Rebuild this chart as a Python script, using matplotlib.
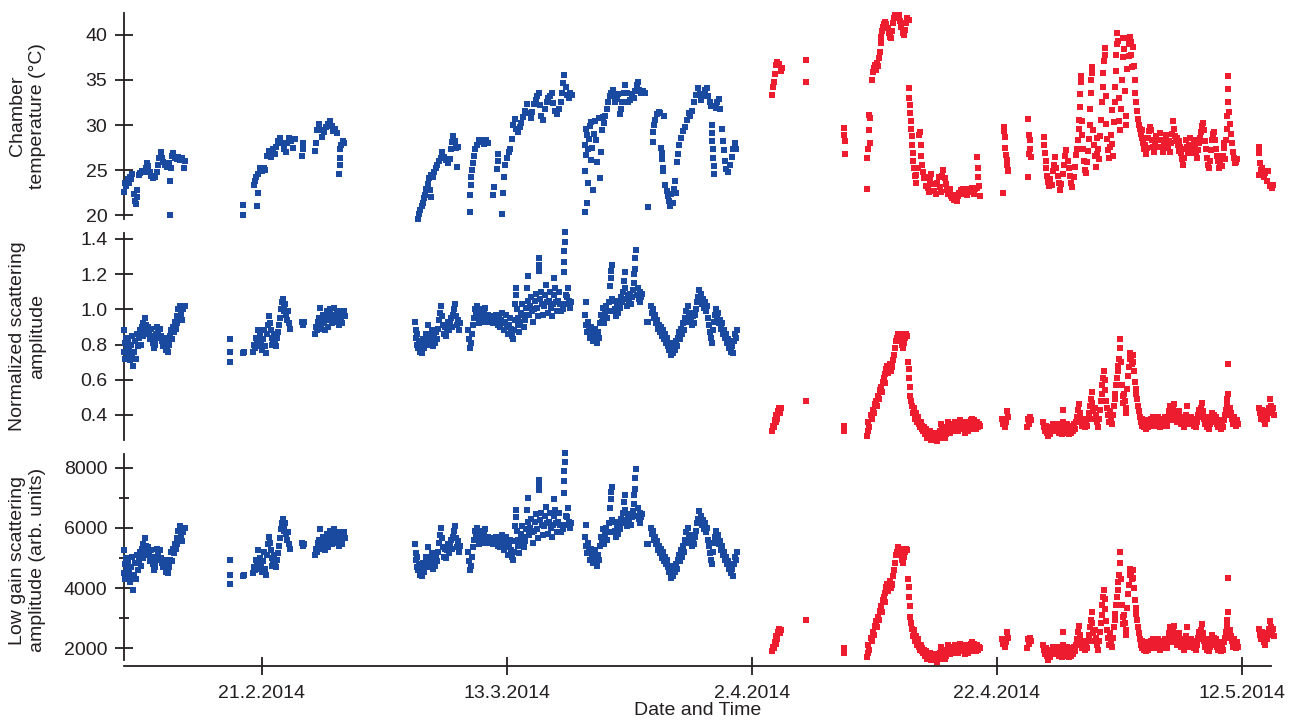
import datetime as dt
import numpy as np
import matplotlib
matplotlib.use("Agg")
import matplotlib.pyplot as plt
import matplotlib.dates as mdates
from matplotlib.ticker import FixedLocator, FormatStrFormatter, FuncFormatter

plt.rcParams['font.family'] = ['Liberation Sans', 'DejaVu Sans']

# all times are days since 1 Feb 2014 00:00
start = dt.datetime(2014, 2, 1)
split_day = 60.0          # 2.4.2014: blue before, red after
x_range = (8.76, 102.37)
tick_dates = [dt.datetime(2014, 2, 21), dt.datetime(2014, 3, 13), dt.datetime(2014, 4, 2),
              dt.datetime(2014, 4, 22), dt.datetime(2014, 5, 12)]

# ---- chamber temperature (deg C) ----
temp_day = [
    8.76, 8.85, 8.95, 9.05, 9.15, 9.25, 9.35, 9.45, 9.55, 9.62,
    9.70, 9.78, 9.86, 9.95, 10.10, 10.25, 10.40, 10.55, 10.65, 10.75,
    10.85, 11.00, 11.15, 11.30, 11.45, 11.55, 11.65, 11.75, 11.85, 11.95,
    12.10, 12.25, 12.40, 12.50, 12.55, 12.60, 12.68, 12.78, 12.90, 13.05,
    13.20, 13.35, 13.50, 13.62, 13.70,
    18.45, 18.50, 19.35, 19.45, 19.55, 19.62, 19.68, 19.72, 19.85, 20.00,
    20.15, 20.30, 20.45, 20.60, 20.75, 20.90, 21.05, 21.20, 21.35, 21.50,
    21.65, 21.80, 21.95, 22.10, 22.25, 22.40, 22.55, 22.70, 23.30, 23.35,
    23.40, 24.35, 24.42, 24.50, 24.65, 24.80, 24.95, 25.10, 25.25, 25.40,
    25.55, 25.70, 25.85, 26.00, 26.15, 26.35, 26.38, 26.40, 26.42, 26.50,
    26.62, 26.75,
    32.78, 32.85, 32.95, 33.05, 33.15, 33.25, 33.35, 33.45, 33.55, 33.65,
    33.72, 33.78, 33.85, 33.95, 34.05, 34.20, 34.35, 34.50, 34.65, 34.75,
    34.90, 35.05, 35.20, 35.35, 35.45, 35.55, 35.65, 35.75, 35.85, 35.92,
    36.00, 37.00, 37.02, 37.05, 37.08, 37.15, 37.25, 37.35, 37.45, 37.55,
    37.70, 37.85, 38.00, 38.15, 38.30, 38.45, 38.90, 38.95, 39.20, 39.25,
    39.30, 39.58, 39.72, 39.74, 39.85, 40.00, 40.15, 40.30, 40.45, 40.55,
    40.65, 40.75, 40.90, 41.05, 41.20, 41.35, 41.50, 41.65, 41.80, 41.95,
    42.10, 42.25, 42.40, 42.50, 42.60, 42.70, 42.80, 42.95, 43.10, 43.25,
    43.40, 43.55, 43.67, 43.80, 43.95, 44.10, 44.25, 44.40, 44.50, 44.60,
    44.70, 44.80, 44.90, 45.05, 45.20, 45.30,
    46.38, 46.40, 46.42, 46.45, 46.48, 46.52, 46.56, 46.60, 46.64, 46.70,
    46.76, 46.84, 46.92, 47.00, 47.05, 47.14, 47.22, 47.30, 47.40, 47.50,
    47.60, 47.68, 47.76, 47.85, 47.95, 48.05, 48.15, 48.28, 48.40, 48.52,
    48.64, 48.76, 48.88, 49.00, 49.12, 49.25, 49.35, 49.45, 49.55, 49.66,
    49.78, 49.90, 50.05, 50.20, 50.35, 50.48, 50.60, 50.70, 50.82, 50.95,
    51.10, 51.25,
    51.55, 51.95, 51.97, 51.99, 52.10, 52.25, 52.40, 52.55, 52.62, 52.65,
    52.68, 52.72, 52.78, 52.85, 52.95, 53.05, 53.15, 53.25, 53.35, 53.45,
    53.55, 53.65, 53.75, 53.85, 53.92, 53.98, 54.10, 54.25, 54.40, 54.55,
    54.70, 54.85, 55.00, 55.15, 55.30, 55.45, 55.60, 55.75, 55.90, 56.05,
    56.20, 56.32, 56.45, 56.58, 56.70, 56.72, 56.75, 56.78, 56.82, 56.86,
    56.90, 56.95, 57.05, 57.20, 57.33, 57.45, 57.55, 57.62, 57.70, 57.80,
    57.90, 58.05, 58.20, 58.35, 58.50, 58.62, 58.75,
    61.68, 61.75, 61.85, 61.93, 62.00, 62.10, 62.22, 62.35, 62.45, 64.46,
    64.47, 67.50, 67.55, 67.60, 67.62, 69.40, 69.45, 69.50, 69.55, 69.58,
    69.62, 69.68,
    69.80, 69.88, 69.95, 70.05, 70.15, 70.22, 70.30, 70.38, 70.45, 70.52,
    70.58, 70.65, 70.72, 70.80, 70.90, 71.00, 71.10, 71.20, 71.30, 71.40,
    71.48, 71.56, 71.64, 71.72, 71.82, 71.92, 72.02, 72.12, 72.22, 72.32,
    72.42, 72.52, 72.60, 72.70, 72.80,
    72.85, 72.88, 72.90, 72.93, 72.97, 73.00, 73.05, 73.10, 73.15, 73.20,
    73.25, 73.30, 73.38, 73.45, 73.55, 73.65, 73.70, 73.78, 73.85, 73.92,
    74.00, 74.10, 74.20, 74.28, 74.38, 74.48, 74.57, 74.65, 74.75, 74.85,
    74.95, 75.05, 75.15, 75.25, 75.35, 75.45, 75.55, 75.65, 75.75, 75.85,
    75.95, 76.05, 76.15, 76.25, 76.35, 76.45, 76.55, 76.65, 76.75, 76.85,
    76.95, 77.05, 77.15, 77.25, 77.35, 77.45, 77.55, 77.65, 77.75, 77.85,
    77.95, 78.05, 78.15, 78.25, 78.35, 78.42, 78.45, 78.50, 78.55, 78.60,
    80.55, 80.60, 80.63, 80.66, 80.70, 80.75, 80.80, 80.85, 80.90, 80.95,
    82.55, 82.58, 82.60, 82.65, 82.70, 82.75, 82.80,
    83.85, 83.90, 83.95, 84.00, 84.05, 84.12, 84.20, 84.28, 84.38, 84.48,
    84.58, 84.68, 84.78, 84.88, 84.98, 85.08, 85.18, 85.28, 85.38, 85.48,
    85.58, 85.68, 85.78, 85.88, 85.98, 86.08, 86.18, 86.28, 86.38, 86.48,
    86.55, 86.62, 86.68, 86.72, 86.76, 86.80, 86.84, 86.88, 86.95, 87.00,
    87.08, 87.15, 87.22, 87.30, 87.38, 87.45, 87.52, 87.58, 87.62, 87.66,
    87.70, 87.74, 87.80, 87.85, 87.92, 88.00, 88.08, 88.15, 88.22, 88.30,
    88.38, 88.45, 88.52, 88.58, 88.64, 88.70, 88.76, 88.82, 88.88, 88.92,
    88.96, 89.00, 89.08, 89.15, 89.22, 89.30, 89.38, 89.45, 89.52, 89.58,
    89.62, 89.66, 89.70, 89.74, 89.78, 89.82, 89.88, 89.95, 90.02, 90.08,
    90.15, 90.22, 90.28, 90.34, 90.40, 90.46, 90.52, 90.58, 90.64, 90.70,
    90.76, 90.82, 90.88, 90.94, 91.00, 91.06, 91.12, 91.20, 91.26, 91.32,
    91.38, 91.44, 91.50, 91.58, 91.66, 91.74, 91.82, 91.90, 91.98, 92.06,
    92.14, 92.22, 92.30, 92.38, 92.46, 92.54, 92.62, 92.70, 92.78, 92.86,
    92.94, 93.02, 93.10, 93.18, 93.26, 93.34, 93.42, 93.50, 93.58, 93.66,
    93.74, 93.82, 93.90, 93.98, 94.06, 94.14, 94.22, 94.30, 94.38, 94.45,
    94.52, 94.60, 94.68, 94.76, 94.84, 94.92, 95.00, 95.08, 95.16, 95.24,
    95.32, 95.40, 95.48, 95.56, 95.64, 95.72, 95.80, 95.88, 95.96, 96.04,
    96.12, 96.20, 96.28, 96.36, 96.44, 96.52, 96.60, 96.68, 96.76, 96.84,
    96.92, 97.00, 97.08, 97.16, 97.24, 97.32, 97.40, 97.48, 97.56, 97.64,
    97.72, 97.80, 97.88, 97.96, 98.04, 98.12, 98.20, 98.28, 98.36, 98.44,
    98.52, 98.58, 98.62, 98.70, 98.76, 98.80, 98.84, 98.88, 98.92, 98.98,
    99.04, 99.10, 99.18, 99.26, 99.34, 99.42, 99.50, 99.58,
    101.40, 101.42, 101.45, 101.52, 101.60, 101.68, 101.80, 101.92, 102.05, 102.18,
    102.32, 102.45, 102.58,
]
temp_c = [
    22.6, 23.6, 23.2, 24.0, 23.6, 24.3, 24.0, 24.6, 22.4, 21.6,
    21.3, 22.0, 22.8, 24.5, 24.7, 24.9, 24.8, 25.3, 25.8, 25.5,
    24.8, 24.4, 24.1, 24.3, 24.8, 25.6, 26.4, 27.0, 26.4, 25.9,
    25.6, 25.4, 25.8, 20.0, 23.8, 25.2, 26.6, 26.9, 26.4, 26.2,
    26.5, 26.1, 26.3, 25.2, 26.0,
    21.1, 20.0, 23.4, 23.8, 24.2, 21.0, 22.5, 24.6, 25.2, 24.9,
    25.3, 25.0, 26.6, 27.1, 26.5, 27.4, 26.8, 27.6, 28.2, 28.6,
    28.0, 27.3, 27.0, 28.0, 28.6, 28.2, 27.5, 28.5, 26.6, 27.4,
    28.0, 27.1, 28.0, 29.5, 30.1, 29.4, 28.7, 29.2, 29.8, 30.1,
    30.5, 29.9, 29.3, 29.6, 29.1, 24.6, 25.6, 26.4, 27.3, 27.8,
    28.2, 28.0,
    19.6, 20.1, 20.6, 21.0, 21.4, 21.9, 22.3, 22.9, 23.5, 24.1,
    22.8, 22.0, 24.5, 24.3, 24.8, 25.2, 25.6, 26.0, 26.3, 27.0,
    26.5, 26.1, 25.8, 26.2, 27.4, 28.1, 28.8, 28.2, 27.5, 25.4,
    27.6, 20.4, 22.3, 23.4, 24.2, 25.0, 25.8, 26.6, 27.3, 27.8,
    28.3, 28.1, 28.4, 27.9, 28.3, 28.0, 22.3, 23.1, 25.1, 26.0,
    26.8, 20.1, 22.5, 24.3, 25.6, 26.3, 27.0, 27.4, 28.5, 30.0,
    30.7, 29.6, 29.2, 29.8, 30.2, 30.9, 31.6, 32.3, 31.3, 30.8,
    31.4, 32.3, 32.8, 33.2, 33.5, 32.2, 31.0, 30.6, 31.8, 32.6,
    33.0, 33.2, 33.5, 32.4, 31.6, 31.2, 31.8, 32.5, 33.6, 34.6,
    35.5, 34.2, 33.3, 33.0, 33.6, 33.3,
    20.4, 24.9, 27.8, 29.6, 26.7, 28.9, 21.4, 23.6, 27.3, 28.5,
    29.9, 26.1, 30.3, 27.5, 22.8, 29.0, 30.5, 28.3, 25.9, 30.8,
    24.1, 27.0, 29.5, 30.9, 30.2, 31.0, 31.8, 32.6, 33.2, 33.5,
    33.9, 33.2, 32.5, 32.9, 33.4, 31.2, 31.8, 32.5, 33.6, 34.4,
    33.6, 32.6, 32.8, 33.4, 33.0, 33.8, 34.4, 34.8, 33.9, 33.5,
    33.8, 33.6,
    20.9, 28.1, 29.2, 30.0, 30.6, 31.2, 31.5, 31.3, 27.5, 26.9,
    26.2, 25.3, 24.9, 31.0, 23.4, 22.7, 22.1, 21.6, 21.0, 22.4,
    21.4, 22.9, 23.8, 22.5, 25.9, 26.8, 27.8, 28.6, 29.3, 29.8,
    30.6, 31.3, 31.0, 31.6, 32.6, 33.3, 34.1, 33.4, 32.8, 33.2,
    33.9, 34.1, 33.2, 32.5, 32.1, 30.0, 29.1, 28.2, 27.3, 26.4,
    25.5, 24.6, 31.9, 32.6, 32.9, 31.8, 29.6, 28.2, 27.2, 26.0,
    25.1, 24.8, 25.6, 26.5, 27.3, 28.0, 27.4,
    33.3, 34.2, 34.8, 35.7, 36.7, 37.0, 36.8, 36.0, 36.3, 37.2,
    34.8, 29.7, 28.9, 28.2, 26.8, 22.9, 26.3, 27.4, 29.5, 31.1,
    30.8, 28.0,
    35.0, 35.9, 36.3, 36.7, 36.1, 36.9, 36.5, 37.4, 38.1, 39.1,
    39.8, 40.4, 40.9, 41.2, 41.4, 41.2, 40.7, 40.2, 39.7, 39.6,
    40.4, 41.3, 41.8, 42.2, 42.1, 41.8, 42.2, 41.5, 40.9, 40.2,
    40.0, 40.5, 41.3, 41.8, 41.6,
    34.1, 33.0, 32.2, 31.3, 30.4, 29.6, 28.8, 27.8, 26.9, 26.0,
    25.2, 24.4, 23.6, 24.5, 25.2, 28.9, 29.2, 27.8, 26.6, 25.6,
    24.8, 24.1, 23.2, 24.3, 23.0, 22.6, 23.9, 24.6, 23.5, 22.7,
    23.5, 22.4, 23.6, 24.3, 23.1, 22.6, 24.4, 25.0, 24.1, 23.5,
    22.8, 22.4, 22.9, 22.2, 21.9, 22.3, 21.7, 22.0, 21.6, 22.2,
    22.5, 22.8, 22.4, 22.9, 22.5, 22.8, 22.3, 22.7, 22.9, 22.6,
    23.0, 22.8, 22.4, 22.9, 23.0, 26.5, 25.2, 24.3, 23.2, 22.1,
    22.5, 29.8, 29.3, 28.7, 27.5, 26.7, 26.1, 25.6, 25.0, 24.9,
    30.7, 24.3, 28.9, 26.8, 28.3, 27.4, 26.5,
    28.7, 27.8, 26.9, 26.0, 25.2, 24.4, 23.7, 23.2, 24.0, 23.4,
    24.9, 25.6, 26.5, 25.2, 24.4, 23.6, 22.8, 23.5, 24.6, 25.6,
    26.6, 27.2, 26.0, 25.2, 24.4, 23.6, 23.1, 24.2, 25.4, 26.7,
    27.3, 28.4, 29.6, 30.6, 32.0, 33.4, 34.8, 35.4, 30.4, 28.9,
    27.4, 26.0, 25.0, 24.7, 25.9, 27.1, 28.5, 30.0, 31.8, 33.6,
    35.0, 36.4, 35.8, 29.4, 27.8, 26.6, 25.4, 26.8, 28.6, 27.4,
    26.2, 28.8, 30.6, 32.5, 34.2, 35.8, 37.1, 38.5, 37.8, 33.2,
    30.1, 28.5, 27.2, 26.3, 27.6, 28.9, 31.7, 27.9, 26.6, 30.3,
    32.5, 34.2, 36.0, 37.8, 39.0, 40.2, 39.3, 33.0, 30.4, 29.5,
    31.8, 35.0, 37.5, 39.6, 38.4, 33.8, 31.0, 30.0, 36.2, 39.6,
    39.0, 37.6, 39.8, 39.2, 37.8, 36.4, 38.6, 36.5, 35.0, 33.5,
    32.6, 31.6, 30.7, 30.0, 29.6, 29.0, 29.5, 28.6, 28.0, 27.3,
    27.8, 26.8, 27.5, 28.6, 29.3, 29.8, 29.5, 28.4, 27.6, 27.0,
    28.2, 28.8, 28.3, 27.6, 28.4, 29.1, 28.3, 27.6, 27.0, 27.8,
    28.4, 28.9, 28.1, 27.5, 28.2, 27.0, 28.0, 29.0, 30.4, 29.6,
    28.8, 28.2, 28.6, 27.8, 27.1, 28.2, 27.6, 26.9, 26.2, 25.6,
    26.4, 27.3, 28.4, 27.6, 26.9, 27.8, 28.6, 27.4, 26.9, 27.7,
    28.3, 27.6, 27.0, 26.4, 27.2, 28.0, 28.6, 29.2, 29.9, 30.2,
    29.4, 28.2, 27.3, 26.4, 25.6, 25.3, 26.0, 27.2, 28.3, 29.0,
    29.2, 28.3, 27.4, 26.6, 26.0, 25.3, 25.9, 26.4, 25.5, 26.6,
    27.5, 28.0, 26.2, 28.4, 29.6, 31.0, 32.6, 34.0, 35.4, 31.5,
    30.1, 29.0, 28.0, 27.0, 26.3, 25.8, 25.9, 26.2,
    27.6, 26.9, 24.5, 25.8, 25.0, 25.3, 24.3, 24.7, 23.8, 24.9,
    23.3, 23.0, 23.4,
]

# ---- scattering amplitude: normalized and low gain (arb. units) ----
scat_day = [
    8.72, 8.76, 8.80, 8.86, 8.92, 8.98, 9.05, 9.12, 9.18, 9.25,
    9.32, 9.38, 9.45, 9.52, 9.60, 9.68, 9.75, 9.82, 9.90, 9.98,
    10.05, 10.12, 10.20, 10.28, 10.35, 10.42, 10.50, 10.58, 10.65, 10.72,
    10.80, 10.88, 10.95, 11.02, 11.10, 11.18, 11.25, 11.32, 11.40, 11.48,
    11.55, 11.62, 11.70, 11.78, 11.85, 11.92, 12.00, 12.08, 12.15, 12.22,
    12.30, 12.38, 12.45, 12.52, 12.60, 12.68, 12.75, 12.82, 12.90, 12.98,
    13.05, 13.12, 13.20, 13.28, 13.35, 13.42, 13.50, 13.58, 13.70,
    17.40, 17.42, 17.44, 18.45, 18.55, 19.30, 19.38, 19.45, 19.52, 19.60,
    19.68, 19.75, 19.82, 19.90, 19.98, 20.05, 20.12, 20.20, 20.28, 20.35,
    20.42, 20.50, 20.58, 20.65, 20.72, 20.80, 20.88, 20.95, 21.02, 21.10,
    21.18, 21.25, 21.32, 21.40, 21.48, 21.55, 21.62, 21.70, 21.78, 21.85,
    21.92, 22.00, 22.08, 22.15, 22.22, 22.30, 23.28, 23.35, 23.45, 24.35,
    24.42, 24.50, 24.58, 24.65, 24.72, 24.76, 24.85, 24.92, 25.00, 25.08,
    25.15, 25.22, 25.30, 25.38, 25.45, 25.52, 25.60, 25.68, 25.75, 25.82,
    25.90, 25.98, 26.05, 26.12, 26.20, 26.28, 26.35, 26.42, 26.50, 26.58,
    26.65, 26.72, 26.80,
    32.52, 32.56, 32.60, 32.65, 32.70, 32.75, 32.82, 32.90, 32.98, 33.05,
    33.12, 33.20, 33.28, 33.35, 33.42, 33.50, 33.58, 33.65, 33.72, 33.80,
    33.88, 33.95, 34.02, 34.10, 34.18, 34.26, 34.34, 34.42, 34.50, 34.58,
    34.66, 34.74, 34.82, 34.90, 34.98, 35.06, 35.14, 35.22, 35.30, 35.38,
    35.46, 35.54, 35.62, 35.70, 35.78, 35.86, 35.94, 36.02, 36.10, 36.18,
    36.88, 36.95, 37.02, 37.10, 37.18, 37.25, 37.32, 37.40, 37.48, 37.56,
    37.64, 37.72, 37.80, 37.88, 37.96, 38.04, 38.12, 38.20, 38.28, 38.36,
    38.44, 38.80, 38.88, 38.96, 39.04, 39.12, 39.20, 39.28, 39.36, 39.44,
    39.52, 39.60, 39.68, 39.76, 39.84, 39.92, 40.00, 40.08, 40.16, 40.24,
    40.32, 40.40, 40.48, 40.56, 40.64, 40.70, 40.74, 40.78, 40.84, 40.90,
    40.96, 41.04, 41.12, 41.20, 41.28, 41.36, 41.44, 41.52, 41.60, 41.66,
    41.71, 41.76, 41.84, 41.92, 42.00, 42.08, 42.16, 42.24, 42.32, 42.40,
    42.48, 42.56, 42.62, 42.64, 42.66, 42.70, 42.78, 42.86, 42.94, 43.02,
    43.10, 43.18, 43.26, 43.34, 43.42, 43.50, 43.58, 43.66, 43.74, 43.82,
    43.88, 43.94, 44.02, 44.10, 44.18, 44.26, 44.34, 44.42, 44.50, 44.58,
    44.64, 44.67, 44.70, 44.72, 44.74, 44.80, 44.88, 44.96, 45.04, 45.12,
    45.20, 45.28,
    46.40, 46.45, 46.50, 46.55, 46.62, 46.70, 46.78, 46.86, 46.94, 47.02,
    47.10, 47.18, 47.26, 47.34, 47.42, 47.50, 47.58, 47.66, 47.74, 47.82,
    47.90, 47.98, 48.06, 48.14, 48.22, 48.30, 48.38, 48.44, 48.48, 48.52,
    48.56, 48.62, 48.70, 48.78, 48.86, 48.94, 49.02, 49.10, 49.18, 49.26,
    49.34, 49.42, 49.50, 49.56, 49.62, 49.68, 49.76, 49.84, 49.92, 50.00,
    50.08, 50.16, 50.24, 50.32, 50.38, 50.42, 50.46, 50.50, 50.54, 50.60,
    50.68, 50.76, 50.84, 50.92, 51.00, 51.08,
    51.45, 51.50, 51.80, 51.88, 51.96, 52.04, 52.12, 52.20, 52.28, 52.36,
    52.44, 52.52, 52.60, 52.68, 52.76, 52.84, 52.92, 53.00, 53.08, 53.16,
    53.24, 53.32, 53.40, 53.48, 53.56, 53.64, 53.72, 53.80, 53.88, 53.96,
    54.04, 54.12, 54.20, 54.28, 54.36, 54.44, 54.52, 54.60, 54.68, 54.76,
    54.84, 54.92, 55.00, 55.08, 55.16, 55.24, 55.32, 55.40, 55.48, 55.56,
    55.64, 55.72, 55.80, 55.88, 55.96, 56.04, 56.12, 56.20, 56.28, 56.36,
    56.44, 56.52, 56.60, 56.68, 56.76, 56.84, 56.92, 57.00, 57.08, 57.16,
    57.24, 57.32, 57.40, 57.48, 57.56, 57.64, 57.72, 57.80, 57.88, 57.96,
    58.04, 58.12, 58.20, 58.28, 58.36, 58.44, 58.52, 58.60, 58.68, 58.76,
    61.68, 61.74, 61.80, 61.88, 61.95, 62.02, 62.10, 62.18, 62.26, 62.34,
    62.42, 64.46, 67.52, 67.56, 69.42, 69.46, 69.52, 69.58,
    69.73, 69.80, 69.88, 69.95, 70.03, 70.12, 70.20, 70.28, 70.36, 70.44,
    70.53, 70.60, 70.68, 70.76, 70.84, 70.91, 70.98, 71.05, 71.12, 71.20,
    71.28, 71.35, 71.42, 71.49, 71.56, 71.64, 71.72, 71.79, 71.86, 71.93,
    72.00, 72.08, 72.15, 72.23, 72.30, 72.37, 72.45, 72.52, 72.60, 72.66,
    72.75, 72.80, 72.85, 72.90, 72.95, 73.00, 73.08, 73.15, 73.22, 73.30,
    73.38, 73.46, 73.54, 73.62, 73.70, 73.78, 73.86, 73.94, 74.02, 74.10,
    74.18, 74.26, 74.34, 74.42, 74.50, 74.58, 74.66, 74.74, 74.82, 74.90,
    74.98, 75.06, 75.14, 75.22, 75.30, 75.38, 75.46, 75.54, 75.62, 75.70,
    75.78, 75.86, 75.94, 76.02, 76.10, 76.18, 76.26, 76.34, 76.42, 76.50,
    76.58, 76.66, 76.74, 76.82, 76.90, 76.98, 77.06, 77.14, 77.22, 77.30,
    77.38, 77.46, 77.54, 77.62, 77.70, 77.78, 77.86, 77.94, 78.02, 78.10,
    78.18, 78.26, 78.34, 78.42, 78.50, 78.58, 78.66,
    80.45, 80.52, 80.60, 80.68, 80.76, 80.84, 80.92, 82.50, 82.58, 82.66,
    82.74, 82.82,
    83.80, 83.88, 83.96, 84.04, 84.12, 84.20, 84.28, 84.36, 84.44, 84.52,
    84.60, 84.68, 84.76, 84.84, 84.92, 85.00, 85.08, 85.16, 85.24, 85.32,
    85.40, 85.44, 85.52, 85.60, 85.68, 85.76, 85.84, 85.92, 86.00, 86.08,
    86.16, 86.24, 86.32, 86.40, 86.48, 86.56, 86.64, 86.72, 86.80, 86.88,
    86.96, 87.04, 87.12, 87.20, 87.28, 87.36, 87.44, 87.52, 87.60, 87.68,
    87.74, 87.80, 87.86, 87.92, 88.00, 88.08, 88.16, 88.24, 88.32, 88.40,
    88.48, 88.56, 88.62, 88.68, 88.74, 88.80, 88.86, 88.92, 89.00, 89.08,
    89.16, 89.24, 89.32, 89.40, 89.48, 89.56, 89.62, 89.68, 89.74, 89.80,
    89.86, 89.92, 89.98, 90.04, 90.10, 90.16, 90.22, 90.28, 90.34, 90.40,
    90.46, 90.52, 90.58, 90.66, 90.74, 90.80, 90.86, 90.92, 90.98, 91.04,
    91.10, 91.16, 91.22, 91.28, 91.34, 91.40, 91.46, 91.52, 91.58, 91.66,
    91.74, 91.82, 91.90, 91.98, 92.06, 92.14, 92.22, 92.30, 92.38, 92.46,
    92.54, 92.62, 92.70, 92.78, 92.86, 92.94, 93.02, 93.10, 93.18, 93.26,
    93.34, 93.42, 93.50, 93.58, 93.66, 93.74, 93.82, 93.90, 93.98, 94.06,
    94.14, 94.22, 94.30, 94.38, 94.46, 94.54, 94.62, 94.70, 94.78, 94.86,
    94.94, 95.02, 95.10, 95.18, 95.26, 95.34, 95.42, 95.50, 95.58, 95.66,
    95.74, 95.82, 95.90, 95.98, 96.06, 96.14, 96.22, 96.30, 96.38, 96.46,
    96.54, 96.62, 96.70, 96.78, 96.86, 96.94, 97.02, 97.10, 97.18, 97.26,
    97.34, 97.42, 97.50, 97.58, 97.66, 97.74, 97.82, 97.90, 97.98, 98.06,
    98.14, 98.22, 98.30, 98.38, 98.46, 98.54, 98.62, 98.70, 98.76, 98.80,
    98.84, 98.89, 98.94, 99.00, 99.08, 99.16, 99.24, 99.32, 99.40, 99.48,
    99.56, 99.64, 99.72,
    101.42, 101.48, 101.54, 101.62, 101.70, 101.78, 101.86, 101.94, 102.02, 102.10,
    102.18, 102.26, 102.34, 102.42, 102.50, 102.56, 102.62,
]
scat_norm = [
    0.88, 0.76, 0.81, 0.72, 0.84, 0.78, 0.74, 0.82, 0.77, 0.71,
    0.80, 0.85, 0.73, 0.68, 0.76, 0.82, 0.72, 0.86, 0.79, 0.84,
    0.88, 0.80, 0.90, 0.85, 0.92, 0.88, 0.95, 0.91, 0.86, 0.90,
    0.87, 0.83, 0.89, 0.85, 0.81, 0.78, 0.83, 0.80, 0.86, 0.90,
    0.87, 0.84, 0.89, 0.85, 0.82, 0.79, 0.84, 0.80, 0.77, 0.82,
    0.78, 0.76, 0.80, 0.85, 0.88, 0.83, 0.90, 0.87, 0.93, 0.89,
    0.96, 0.92, 1.00, 0.95, 1.02, 0.97, 0.94, 1.00, 1.02,
    0.83, 0.76, 0.70, 0.75, 0.76, 0.76, 0.80, 0.78, 0.84, 0.81,
    0.88, 0.82, 0.79, 0.85, 0.80, 0.77, 0.83, 0.88, 0.79, 0.75,
    0.86, 0.91, 0.96, 0.92, 0.88, 0.84, 0.80, 0.83, 0.86, 0.82,
    0.79, 0.84, 0.87, 0.91, 0.95, 1.00, 1.04, 1.06, 1.02, 0.99,
    1.03, 0.97, 0.94, 0.99, 0.92, 0.89, 0.93, 0.91, 0.93, 0.86,
    0.90, 0.88, 0.93, 0.95, 0.91, 1.01, 0.89, 0.94, 0.97, 0.92,
    0.88, 0.95, 0.99, 0.94, 0.90, 0.96, 1.00, 0.95, 0.92, 0.97,
    1.01, 0.96, 0.93, 0.98, 0.94, 0.91, 0.96, 0.99, 0.95, 0.92,
    0.97, 0.99, 0.96,
    0.93, 0.88, 0.84, 0.80, 0.86, 0.78, 0.82, 0.76, 0.80, 0.75,
    0.79, 0.83, 0.78, 0.81, 0.86, 0.82, 0.91, 0.85, 0.80, 0.84,
    0.88, 0.82, 0.79, 0.85, 0.81, 0.87, 0.83, 0.89, 0.94, 0.98,
    1.02, 0.96, 0.91, 0.86, 0.90, 0.85, 0.89, 0.93, 0.88, 0.92,
    0.95, 0.90, 0.97, 1.00, 1.03, 0.96, 0.91, 0.94, 0.88, 0.92,
    0.88, 0.83, 0.78, 0.81, 0.86, 0.91, 0.95, 1.00, 0.97, 1.02,
    0.95, 0.92, 0.97, 1.00, 0.96, 0.93, 0.98, 1.01, 0.96, 0.93,
    0.97, 0.95, 0.92, 0.96, 0.93, 0.97, 0.94, 0.91, 0.95, 0.90,
    0.94, 0.98, 0.92, 0.88, 0.93, 0.97, 0.90, 0.86, 0.91, 0.95,
    0.89, 0.85, 0.83, 0.88, 0.94, 1.03, 1.08, 1.12, 1.00, 0.95,
    0.91, 0.87, 0.93, 0.98, 1.03, 0.97, 0.90, 0.94, 1.01, 1.12,
    1.19, 1.05, 0.97, 1.02, 1.07, 0.99, 0.93, 1.00, 1.05, 1.09,
    1.01, 0.96, 1.22, 1.25, 1.29, 1.06, 1.10, 1.03, 0.97, 1.02,
    1.08, 1.14, 1.04, 0.98, 1.05, 1.10, 1.01, 0.96, 1.03, 1.08,
    1.18, 1.12, 1.04, 0.99, 1.05, 1.10, 1.03, 0.99, 1.03, 1.00,
    1.21, 1.27, 1.33, 1.38, 1.44, 1.08, 1.03, 1.07, 1.12, 1.05,
    1.01, 1.04,
    0.97, 0.91, 1.04, 0.87, 0.93, 0.88, 0.84, 0.90, 0.86, 0.82,
    0.85, 0.89, 0.83, 0.81, 0.87, 0.84, 0.92, 0.97, 0.93, 1.01,
    0.96, 0.92, 0.98, 1.02, 0.95, 0.99, 1.04, 1.13, 1.18, 1.22,
    1.25, 1.06, 0.99, 1.05, 1.00, 0.96, 1.03, 0.98, 1.05, 1.01,
    1.07, 1.04, 1.10, 1.16, 1.21, 1.12, 1.06, 1.02, 1.08, 1.04,
    1.09, 1.03, 1.07, 1.11, 1.15, 1.20, 1.23, 1.29, 1.34, 1.08,
    1.12, 1.06, 1.10, 1.04, 1.07, 1.09,
    0.93, 0.93, 1.02, 0.98, 1.00, 0.95, 0.97, 0.92, 0.94, 0.89,
    0.91, 0.87, 0.90, 0.85, 0.88, 0.83, 0.86, 0.81, 0.84, 0.79,
    0.77, 0.81, 0.74, 0.78, 0.75, 0.80, 0.77, 0.82, 0.79, 0.84,
    0.87, 0.83, 0.89, 0.86, 0.92, 0.88, 0.95, 0.99, 0.94, 1.02,
    0.97, 0.93, 0.98, 0.95, 0.91, 0.96, 0.92, 0.97, 1.00, 1.04,
    1.07, 1.11, 1.06, 1.09, 1.03, 1.06, 1.01, 1.04, 0.99, 1.02,
    0.95, 0.91, 0.87, 0.84, 0.81, 0.88, 0.93, 0.97, 1.00, 0.95,
    0.98, 0.92, 0.94, 0.89, 0.92, 0.86, 0.88, 0.84, 0.86, 0.81,
    0.83, 0.78, 0.80, 0.76, 0.79, 0.75, 0.82, 0.86, 0.84, 0.88,
    0.31, 0.34, 0.33, 0.37, 0.36, 0.40, 0.38, 0.42, 0.44, 0.41,
    0.44, 0.48, 0.34, 0.31, 0.28, 0.31, 0.36, 0.33,
    0.40, 0.38, 0.43, 0.41, 0.46, 0.48, 0.45, 0.51, 0.49, 0.54,
    0.56, 0.53, 0.59, 0.61, 0.58, 0.63, 0.66, 0.68, 0.64, 0.66,
    0.69, 0.65, 0.68, 0.67, 0.71, 0.74, 0.78, 0.82, 0.84, 0.86,
    0.83, 0.86, 0.82, 0.80, 0.84, 0.78, 0.81, 0.84, 0.86, 0.85,
    0.70, 0.66, 0.61, 0.56, 0.51, 0.48, 0.45, 0.41, 0.44, 0.38,
    0.41, 0.36, 0.39, 0.35, 0.33, 0.36, 0.32, 0.34, 0.31, 0.33,
    0.29, 0.32, 0.27, 0.30, 0.28, 0.31, 0.26, 0.29, 0.27, 0.30,
    0.26, 0.28, 0.25, 0.29, 0.27, 0.31, 0.35, 0.32, 0.28, 0.30,
    0.27, 0.29, 0.33, 0.36, 0.32, 0.30, 0.34, 0.31, 0.35, 0.32,
    0.36, 0.33, 0.35, 0.31, 0.34, 0.37, 0.33, 0.36, 0.32, 0.35,
    0.30, 0.33, 0.36, 0.31, 0.34, 0.32, 0.37, 0.33, 0.38, 0.34,
    0.37, 0.35, 0.32, 0.36, 0.33, 0.35, 0.34,
    0.38, 0.35, 0.37, 0.33, 0.36, 0.42, 0.39, 0.33, 0.38, 0.35,
    0.39, 0.37,
    0.36, 0.33, 0.31, 0.34, 0.30, 0.28, 0.32, 0.29, 0.33, 0.31,
    0.35, 0.32, 0.34, 0.31, 0.35, 0.33, 0.30, 0.34, 0.32, 0.29,
    0.43, 0.36, 0.31, 0.34, 0.30, 0.35, 0.32, 0.29, 0.33, 0.30,
    0.34, 0.31, 0.35, 0.32, 0.36, 0.39, 0.43, 0.46, 0.41, 0.37,
    0.34, 0.38, 0.35, 0.33, 0.36, 0.34, 0.38, 0.41, 0.45, 0.49,
    0.53, 0.47, 0.42, 0.38, 0.44, 0.40, 0.36, 0.33, 0.38, 0.43,
    0.48, 0.52, 0.57, 0.61, 0.65, 0.60, 0.54, 0.48, 0.44, 0.40,
    0.36, 0.42, 0.38, 0.35, 0.40, 0.45, 0.49, 0.52, 0.57, 0.61,
    0.65, 0.68, 0.72, 0.78, 0.83, 0.70, 0.57, 0.51, 0.47, 0.52,
    0.48, 0.44, 0.41, 0.55, 0.62, 0.67, 0.72, 0.75, 0.73, 0.69,
    0.74, 0.70, 0.65, 0.59, 0.55, 0.52, 0.49, 0.45, 0.42, 0.39,
    0.36, 0.38, 0.34, 0.37, 0.33, 0.36, 0.32, 0.35, 0.33, 0.37,
    0.34, 0.38, 0.35, 0.39, 0.36, 0.34, 0.38, 0.35, 0.39, 0.36,
    0.33, 0.37, 0.34, 0.38, 0.35, 0.39, 0.36, 0.34, 0.38, 0.42,
    0.45, 0.40, 0.37, 0.43, 0.46, 0.41, 0.38, 0.36, 0.39, 0.42,
    0.38, 0.35, 0.39, 0.36, 0.33, 0.37, 0.40, 0.45, 0.38, 0.35,
    0.38, 0.36, 0.39, 0.35, 0.38, 0.34, 0.37, 0.33, 0.36, 0.40,
    0.43, 0.39, 0.44, 0.47, 0.42, 0.38, 0.35, 0.39, 0.33, 0.36,
    0.32, 0.35, 0.38, 0.41, 0.37, 0.40, 0.36, 0.39, 0.35, 0.33,
    0.37, 0.34, 0.32, 0.36, 0.33, 0.37, 0.40, 0.43, 0.46, 0.49,
    0.52, 0.69, 0.43, 0.40, 0.44, 0.41, 0.38, 0.35, 0.39, 0.36,
    0.34, 0.37, 0.35,
    0.44, 0.41, 0.38, 0.43, 0.40, 0.37, 0.35, 0.39, 0.42, 0.38,
    0.41, 0.44, 0.49, 0.45, 0.41, 0.44, 0.40,
]
scat_low = [
    5250, 4500, 4800, 4300, 5000, 4650, 4350, 4850, 4550, 4200,
    4700, 5050, 4350, 3950, 4450, 4850, 4300, 5100, 4600, 4950,
    5200, 4750, 5300, 5000, 5450, 5150, 5650, 5400, 5100, 5350,
    5150, 4900, 5250, 5050, 4800, 4600, 4900, 4700, 5050, 5300,
    5150, 4950, 5250, 5000, 4850, 4700, 4950, 4750, 4550, 4800,
    4600, 4500, 4700, 4950, 5200, 4900, 5300, 5150, 5450, 5300,
    5650, 5450, 5900, 5600, 6050, 5750, 5550, 5850, 6000,
    4920, 4450, 4120, 4400, 4450, 4500, 4700, 4600, 4950, 4800,
    5250, 4900, 4650, 5000, 4750, 4550, 4900, 5200, 4650, 4450,
    5100, 5450, 5700, 5500, 5250, 5000, 4750, 4900, 5100, 4850,
    4700, 4950, 5150, 5400, 5650, 5950, 6150, 6300, 6100, 5900,
    6150, 5800, 5600, 5850, 5450, 5300, 5500, 5400, 5450, 5100,
    5300, 5200, 5500, 5600, 5400, 5950, 5300, 5550, 5700, 5450,
    5250, 5600, 5800, 5550, 5350, 5700, 5900, 5600, 5450, 5750,
    5950, 5650, 5500, 5800, 5550, 5400, 5650, 5850, 5600, 5450,
    5750, 5850, 5650,
    5450, 5150, 4950, 4700, 5050, 4600, 4800, 4450, 4700, 4400,
    4650, 4850, 4550, 4750, 5050, 4800, 5350, 5000, 4700, 4900,
    5150, 4800, 4650, 5000, 4750, 5100, 4900, 5200, 5500, 5750,
    6000, 5650, 5350, 5050, 5300, 5000, 5250, 5450, 5150, 5400,
    5600, 5300, 5700, 5900, 6050, 5650, 5350, 5550, 5200, 5400,
    5200, 4900, 4600, 4750, 5050, 5350, 5600, 5900, 5700, 6000,
    5600, 5450, 5700, 5900, 5650, 5500, 5750, 5950, 5650, 5500,
    5700, 5600, 5450, 5650, 5500, 5700, 5550, 5400, 5600, 5350,
    5550, 5750, 5450, 5250, 5500, 5700, 5350, 5100, 5400, 5600,
    5250, 5050, 4950, 5200, 5550, 6050, 6350, 6600, 5900, 5600,
    5400, 5150, 5500, 5800, 6050, 5700, 5350, 5550, 5950, 6600,
    7000, 6200, 5750, 6000, 6300, 5850, 5500, 5900, 6200, 6450,
    5950, 5650, 7250, 7400, 7600, 6250, 6500, 6100, 5750, 6050,
    6400, 6700, 6150, 5800, 6200, 6500, 6000, 5700, 6100, 6400,
    6950, 6600, 6150, 5850, 6200, 6500, 6100, 5850, 6100, 5950,
    7150, 7550, 7900, 8200, 8500, 6400, 6100, 6350, 6650, 6200,
    6000, 6150,
    5700, 5400, 6100, 5150, 5500, 5200, 4950, 5300, 5100, 4850,
    5000, 5250, 4900, 4750, 5100, 4950, 5400, 5700, 5500, 5950,
    5650, 5450, 5750, 6000, 5600, 5850, 6150, 6650, 6950, 7200,
    7350, 6250, 5850, 6200, 5900, 5700, 6100, 5800, 6200, 5950,
    6300, 6150, 6500, 6850, 7100, 6600, 6250, 6050, 6400, 6150,
    6450, 6100, 6350, 6550, 6800, 7100, 7300, 7650, 7950, 6400,
    6650, 6300, 6500, 6150, 6350, 6450,
    5450, 5450, 6000, 5800, 5900, 5600, 5700, 5450, 5550, 5250,
    5400, 5150, 5300, 5000, 5200, 4900, 5050, 4800, 4950, 4700,
    4550, 4750, 4350, 4600, 4400, 4700, 4550, 4800, 4650, 4950,
    5100, 4900, 5250, 5050, 5400, 5200, 5600, 5850, 5550, 6000,
    5700, 5500, 5750, 5600, 5400, 5650, 5450, 5700, 5900, 6150,
    6300, 6550, 6250, 6400, 6100, 6250, 5950, 6150, 5850, 6000,
    5600, 5400, 5150, 4950, 4800, 5200, 5500, 5700, 5900, 5600,
    5750, 5450, 5550, 5250, 5400, 5100, 5200, 4950, 5050, 4800,
    4900, 4650, 4750, 4500, 4650, 4400, 4800, 5050, 4950, 5200,
    1900, 2050, 2000, 2200, 2150, 2400, 2300, 2550, 2650, 2500,
    2600, 2950, 2000, 1850, 1700, 1850, 2100, 1950,
    2350, 2250, 2550, 2450, 2750, 2900, 2700, 3050, 2950, 3250,
    3400, 3200, 3600, 3700, 3550, 3850, 4050, 4150, 3900, 4050,
    4250, 4000, 4150, 4100, 4400, 4600, 4850, 5100, 5200, 5350,
    5150, 5300, 5100, 4950, 5200, 4850, 5050, 5200, 5300, 5250,
    4300, 4050, 3700, 3400, 3050, 2850, 2650, 2400, 2600, 2250,
    2400, 2100, 2300, 2050, 1950, 2100, 1900, 2000, 1850, 1950,
    1750, 1900, 1650, 1800, 1700, 1850, 1600, 1750, 1650, 1800,
    1600, 1700, 1550, 1750, 1650, 1850, 2050, 1900, 1700, 1800,
    1650, 1750, 1950, 2100, 1900, 1800, 2000, 1850, 2050, 1900,
    2100, 1950, 2050, 1850, 2000, 2150, 1950, 2100, 1900, 2050,
    1800, 1950, 2100, 1850, 2000, 1900, 2150, 1950, 2200, 2000,
    2150, 2050, 1900, 2100, 1950, 2050, 2000,
    2300, 2150, 2250, 2050, 2200, 2550, 2350, 2000, 2300, 2150,
    2350, 2250,
    2100, 1950, 1800, 2000, 1750, 1600, 1850, 1700, 1950, 1800,
    2050, 1850, 2000, 1800, 2050, 1950, 1750, 2000, 1850, 1700,
    2550, 2100, 1800, 2000, 1750, 2050, 1850, 1700, 1950, 1750,
    2000, 1800, 2050, 1900, 2100, 2300, 2550, 2750, 2450, 2200,
    2000, 2250, 2050, 1950, 2100, 2000, 2250, 2450, 2700, 2950,
    3200, 2850, 2500, 2250, 2600, 2350, 2100, 1950, 2250, 2550,
    2850, 3100, 3450, 3700, 3950, 3650, 3300, 2900, 2600, 2350,
    2100, 2500, 2250, 2050, 2350, 2700, 2950, 3150, 3450, 3700,
    3950, 4200, 4450, 4850, 5200, 4300, 3450, 3050, 2800, 3100,
    2850, 2600, 2450, 3350, 3800, 4100, 4450, 4650, 4550, 4300,
    4600, 4350, 4000, 3600, 3350, 3150, 2950, 2700, 2500, 2300,
    2100, 2250, 2000, 2200, 1950, 2100, 1900, 2050, 1950, 2200,
    2000, 2250, 2050, 2300, 2100, 2000, 2250, 2050, 2300, 2150,
    1950, 2200, 2000, 2250, 2050, 2300, 2100, 2000, 2250, 2500,
    2700, 2350, 2200, 2550, 2750, 2450, 2250, 2100, 2300, 2500,
    2250, 2050, 2300, 2100, 1950, 2200, 2400, 2700, 2250, 2050,
    2250, 2100, 2300, 2050, 2250, 2000, 2200, 1950, 2100, 2350,
    2550, 2300, 2600, 2800, 2500, 2250, 2050, 2300, 1950, 2100,
    1900, 2050, 2250, 2450, 2200, 2350, 2100, 2300, 2050, 1950,
    2200, 2000, 1900, 2100, 1950, 2200, 2350, 2550, 2750, 2950,
    3200, 4350, 2550, 2350, 2600, 2400, 2250, 2050, 2300, 2100,
    2000, 2200, 2050,
    2650, 2450, 2300, 2550, 2400, 2200, 2100, 2350, 2500, 2300,
    2450, 2650, 2900, 2700, 2500, 2650, 2400,
]

BLUE = '#1a4aa0'
RED = '#ed1c2e'
INK = '#231f20'
FS = 14

t0 = mdates.date2num(start)

fig = plt.figure(figsize=(13, 7.24), dpi=100)
ax1 = fig.add_axes([0.0954, 0.6975, 0.8821, 0.2845])
ax2 = fig.add_axes([0.0954, 0.3923, 0.8821, 0.2859])
ax3 = fig.add_axes([0.0954, 0.0801, 0.8821, 0.2928])


def draw(ax, days, vals):
    n = min(len(days), len(vals))
    d = np.asarray(days[:n], dtype=float)
    v = np.asarray(vals[:n], dtype=float)
    early = d < split_day
    for mask, col in ((early, BLUE), (~early, RED)):
        ax.plot(t0 + d[mask], v[mask], 's', color=col, ms=3.9, mew=0,
                clip_on=False, zorder=3)


draw(ax1, temp_day, temp_c)
draw(ax2, scat_day, scat_norm)
draw(ax3, scat_day, scat_low)

ax1.set_ylim(19.6, 42.4)
ax1.yaxis.set_major_locator(FixedLocator([20, 25, 30, 35, 40]))
ax2.set_ylim(0.258, 1.434)
ax2.yaxis.set_major_locator(FixedLocator([0.4, 0.6, 0.8, 1.0, 1.2, 1.4]))
ax2.yaxis.set_major_formatter(FormatStrFormatter('%.1f'))
ax3.set_ylim(1412, 8455)
ax3.yaxis.set_major_locator(FixedLocator([2000, 4000, 6000, 8000]))
ax3.yaxis.set_minor_locator(FixedLocator([3000, 5000, 7000]))
ax3.spines['left'].set_bounds(1611, 8455)

ax1.set_ylabel('Chamber\ntemperature (\u00b0C)')
ax2.set_ylabel('Normalized scattering\namplitude')
ax3.set_ylabel('Low gain scattering\namplitude (arb. units)')

for ax in (ax1, ax2, ax3):
    ax.set_xlim(t0 + x_range[0], t0 + x_range[1])
    ax.patch.set_visible(False)
    for side in ('top', 'right'):
        ax.spines[side].set_visible(False)
    ax.spines['left'].set_color(INK)
    ax.spines['left'].set_linewidth(1.3)
    ax.tick_params(axis='y', which='major', direction='inout', length=13, width=1.3,
                   color=INK, labelcolor=INK, labelsize=FS, pad=5.5)
    ax.tick_params(axis='y', which='minor', direction='inout', length=7, width=1.3, color=INK)
    ax.yaxis.label.set_fontsize(FS)
    ax.yaxis.label.set_color(INK)
    ax.yaxis.set_label_coords(-0.068, 0.5)

for ax in (ax1, ax2):
    ax.spines['bottom'].set_visible(False)
    ax.tick_params(axis='x', bottom=False, labelbottom=False)

ax3.spines['bottom'].set_color(INK)
ax3.spines['bottom'].set_linewidth(1.3)
ax3.set_xticks([mdates.date2num(d) for d in tick_dates])
ax3.xaxis.set_major_formatter(FuncFormatter(
    lambda x, pos: '{0.day}.{0.month}.{0.year}'.format(mdates.num2date(x))))
ax3.tick_params(axis='x', direction='inout', length=13, width=1.3, color=INK,
                labelcolor=INK, labelsize=FS, pad=7)
ax3.set_xlabel('Date and Time', fontsize=FS, color=INK, labelpad=0.5)

fig.savefig('out.png', dpi=100)
